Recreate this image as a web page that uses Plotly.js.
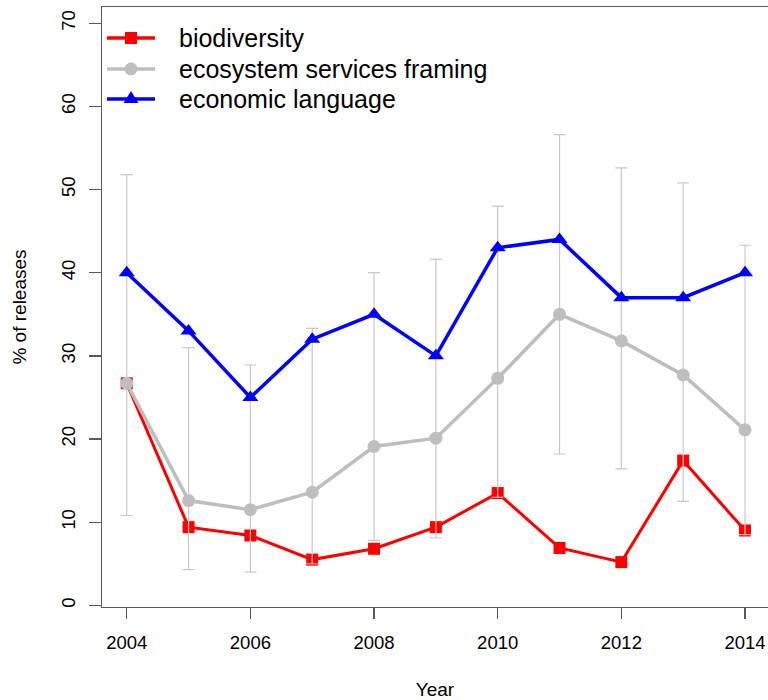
<!DOCTYPE html>
<html>
<head>
<meta charset="utf-8">
<script src="https://cdn.plot.ly/plotly-3.0.1.min.js"></script>
<style>
  html, body { margin: 0; padding: 0; background: #ffffff; }
  #chart { width: 768px; height: 700px; }
</style>
</head>
<body>
<div id="chart"></div>
<script>
// Share of press releases per year using each framing
const years = [2004, 2005, 2006, 2007, 2008, 2009, 2010, 2011, 2012, 2013, 2014];
const biodiversity = [26.7, 9.4, 8.4, 5.5, 6.8, 9.4, 13.5, 6.9, 5.2, 17.4, 9.0];
const ecosystemServices = [26.7, 12.6, 11.5, 13.6, 19.1, 20.1, 27.3, 35.0, 31.8, 27.7, 21.1];
const economicLanguage = [40, 33, 25, 32, 35, 30, 43, 44, 37, 37, 40];
// Interval bounds drawn as light grey whiskers
const intervalLow = [10.8, 4.3, 4.0, 5.0, 7.8, 8.1, 13.0, 18.2, 16.4, 12.5, 8.5];
const intervalHigh = [51.8, 31.0, 28.9, 33.3, 40.0, 41.6, 48.0, 56.6, 52.6, 50.8, 43.3];
const seriesNames = ["biodiversity", "ecosystem services framing", "economic language"];
const seriesColors = ["#ff0000", "#bebebe", "#0000ff"];
const yTicks = [0, 10, 20, 30, 40, 50, 60, 70];
const xTicks = [2004, 2006, 2008, 2010, 2012, 2014];

const FONT = "Liberation Sans, Arial, sans-serif";
const AXIS_COLOR = "#595959";

const W = 768, H = 700;
const M = { l: 102, r: 0, t: 7, b: 93 };
const plotW = W - M.l - M.r, plotH = H - M.t - M.b;
// pixel -> paper conversion for the hand-built key
const px = v => (v - M.l) / plotW;
const py = v => (H - M.b - v) / plotH;

const mid = intervalLow.map((lo, i) => (lo + intervalHigh[i]) / 2);
const half = intervalLow.map((lo, i) => (intervalHigh[i] - lo) / 2);

const traces = [
  {
    x: years, y: biodiversity, name: seriesNames[0],
    type: "scatter", mode: "lines+markers",
    line: { color: seriesColors[0], width: 3 },
    marker: { symbol: "square", size: 12, color: seriesColors[0] }
  },
  {
    x: years, y: mid, type: "scatter", mode: "markers",
    hoverinfo: "skip",
    marker: { size: 1, opacity: 0 },
    error_y: { type: "data", array: half, symmetric: true,
               color: "#c8c8c8", thickness: 1.2, width: 6 }
  },
  {
    x: years, y: ecosystemServices, name: seriesNames[1],
    type: "scatter", mode: "lines+markers",
    line: { color: seriesColors[1], width: 3.5 },
    marker: { symbol: "circle", size: 13, color: seriesColors[1] }
  },
  {
    x: years, y: economicLanguage, name: seriesNames[2],
    type: "scatter", mode: "lines+markers",
    line: { color: seriesColors[2], width: 3.5 },
    marker: { symbol: "triangle-up", size: 14, color: seriesColors[2] }
  }
];

// Key in the top-left corner: line segment, symbol, label
const keyRows = [38, 69, 99];
const keyX0 = 107, keyX1 = 155, keyMid = 131, keyText = 177;
const shapes = [];
const annotations = [];
keyRows.forEach((row, i) => {
  const c = seriesColors[i];
  shapes.push({ type: "line", xref: "paper", yref: "paper",
    x0: px(keyX0), x1: px(keyX1), y0: py(row), y1: py(row),
    line: { color: c, width: 3.5 } });
  if (i === 0) {
    shapes.push({ type: "rect", xref: "paper", yref: "paper",
      x0: px(keyMid - 6), x1: px(keyMid + 6), y0: py(row + 6), y1: py(row - 6),
      fillcolor: c, line: { width: 0 } });
  } else if (i === 1) {
    shapes.push({ type: "circle", xref: "paper", yref: "paper",
      x0: px(keyMid - 6.5), x1: px(keyMid + 6.5), y0: py(row + 6.5), y1: py(row - 6.5),
      fillcolor: c, line: { width: 0 } });
  } else {
    const path = "M " + px(keyMid - 7.5) + " " + py(row + 4) +
                 " L " + px(keyMid + 7.5) + " " + py(row + 4) +
                 " L " + px(keyMid) + " " + py(row - 8) + " Z";
    shapes.push({ type: "path", xref: "paper", yref: "paper", path: path,
      fillcolor: c, line: { width: 0 } });
  }
  annotations.push({ xref: "paper", yref: "paper", x: px(keyText), y: py(row),
    xanchor: "left", yanchor: "middle", showarrow: false, text: seriesNames[i],
    font: { family: FONT, size: 25, color: "#000000" } });
});

const layout = {
  width: W, height: H,
  paper_bgcolor: "#ffffff", plot_bgcolor: "#ffffff",
  margin: { l: M.l, r: M.r, t: M.t, b: M.b, pad: 0 },
  font: { family: FONT, color: "#000000", size: 18 },
  showlegend: false,
  shapes: shapes,
  annotations: annotations,
  xaxis: {
    range: [2003.6, 2014.372],
    tickmode: "array", tickvals: xTicks, ticktext: xTicks.map(String),
    ticks: "outside", ticklen: 11, tickwidth: 1.3, tickcolor: AXIS_COLOR,
    ticklabelstandoff: 7,
    showline: true, linecolor: AXIS_COLOR, linewidth: 1.3, mirror: true,
    showgrid: false, zeroline: false,
    tickfont: { family: FONT, size: 18.5, color: "#000000" },
    title: { text: "Year", font: { family: FONT, size: 19, color: "#000000" }, standoff: 32 },
    automargin: false
  },
  yaxis: {
    range: [-0.2, 71.95],
    tickmode: "array", tickvals: yTicks, ticktext: yTicks.map(String),
    ticks: "outside", ticklen: 12, tickwidth: 1.3, tickcolor: AXIS_COLOR,
    tickangle: -90, ticklabelstandoff: 6,
    showline: true, linecolor: AXIS_COLOR, linewidth: 1.3, mirror: false,
    showgrid: false, zeroline: false,
    tickfont: { family: FONT, size: 18.5, color: "#000000" },
    title: { text: "% of releases", font: { family: FONT, size: 19, color: "#000000" }, standoff: 26 },
    automargin: false
  }
};

Plotly.newPlot("chart", traces, layout, { staticPlot: true, displayModeBar: false });
</script>
</body>
</html>
